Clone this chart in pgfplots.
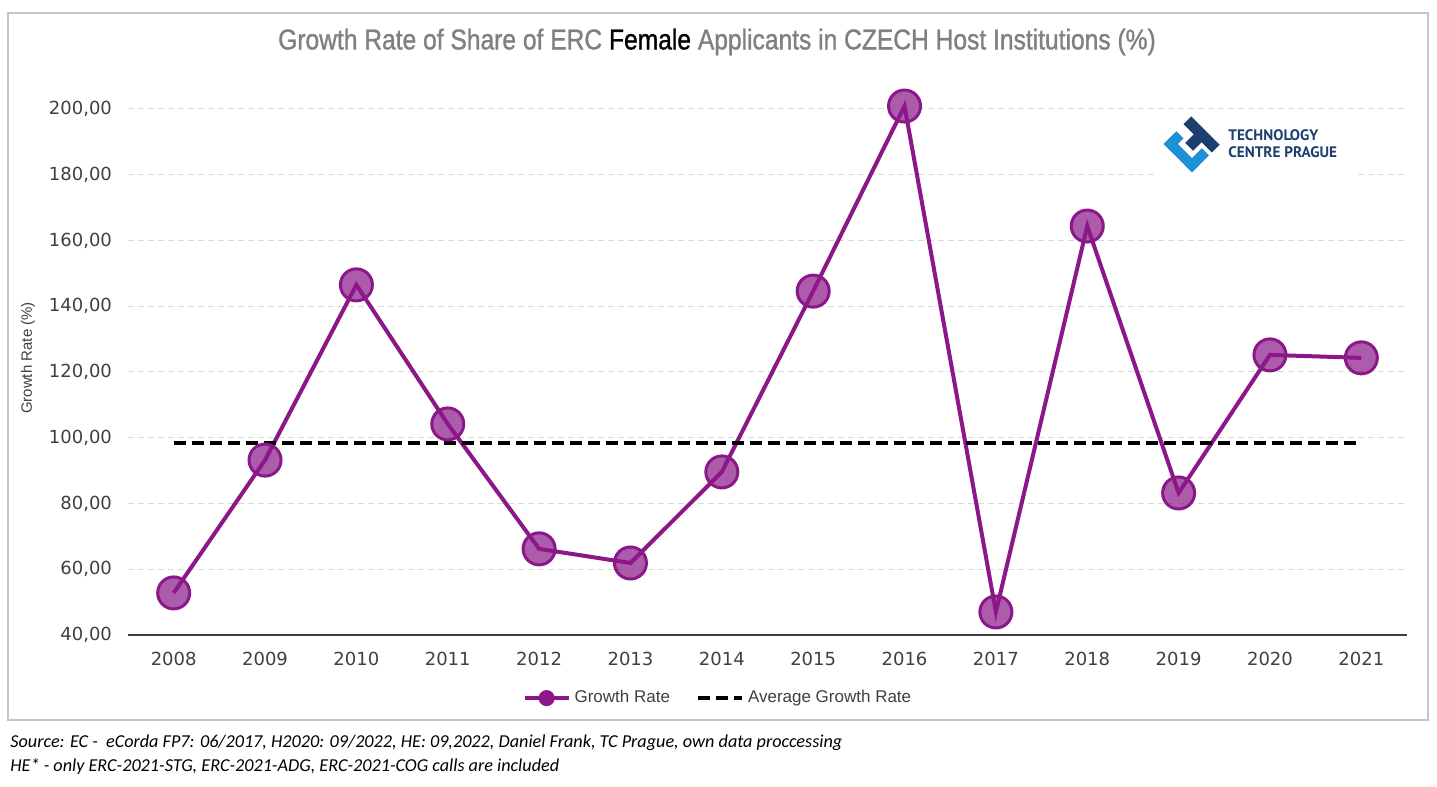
\documentclass[border=0pt]{standalone}
\usepackage{pgfplots}
\pgfplotsset{compat=1.18}
\usepackage{fontspec}
\setmainfont{Liberation Sans}
\newfontfamily\tickfont{DejaVu Sans}
\newfontfamily\titlefont{Liberation Sans}[FakeStretch=0.86, FakeBold=1.1]
\newfontfamily\footfont{Carlito}
\newfontfamily\logofont{PT Sans}
\definecolor{grPurple}{RGB}{139,23,137}
\definecolor{titleGray}{RGB}{128,128,128}
\definecolor{txtGray}{RGB}{64,64,64}
\definecolor{tcBlue}{RGB}{30,144,214}
\definecolor{tcNavy}{RGB}{29,63,110}

\begin{document}
\begin{tikzpicture}[x=1pt,y=1pt]
% page and frame (1 px = 0.5 pt)
\fill[white] (0,0) rectangle (718.5,393.5);
\draw[gray!45, line width=0.6pt] (4,33.5) rectangle (714,387);

\begin{axis}[at={(64pt,76pt)}, anchor=south west,
    scale only axis, width=639.5pt, height=263pt,
    xmin=-0.5, xmax=13.5, ymin=40, ymax=200,
    xtick={0,...,13},
    xticklabels={2008,2009,2010,2011,2012,2013,2014,2015,2016,2017,2018,2019,2020,2021},
    ytick={40,60,...,200},
    axis x line=bottom, axis y line=left,
    axis line style={-},
    x axis line style={draw=txtGray, line width=1.4pt},
    y axis line style={draw=none},
    major tick length=0pt,
    ymajorgrids, grid style={gray!30, line width=0.5pt, dash pattern=on 3pt off 2pt},
    tick label style={font=\tickfont\fontsize{9}{10}\selectfont, text=txtGray},
    yticklabel style={xshift=-4.5pt, /pgf/number format/.cd, fixed, fixed zerofill, precision=2, use comma, assume math mode=true},
    xticklabel style={yshift=-5pt},
    clip=false,
    legend columns=2,
    legend style={at={(0.462,-0.12)}, anchor=center, draw=none, fill=none,
        font=\fontsize{8.5}{10}\selectfont, text=txtGray,
        /tikz/every even column/.append style={column sep=11pt}},
]
\addplot[grPurple, line width=2pt, mark=*, mark size=8pt,
    mark options={draw=grPurple, fill=grPurple, fill opacity=0.7, line width=1.5pt},
    legend image code/.code={
        \draw[grPurple, line width=2pt] (0pt,0pt) -- (22pt,0pt);
        \fill[grPurple] (11pt,0pt) circle (3pt);}]
coordinates {(0,52.8) (1,93.2) (2,146.5) (3,104.2) (4,66.2) (5,61.9) (6,89.6)
    (7,144.6) (8,200.9) (9,47.0) (10,164.4) (11,83.2) (12,125.2) (13,124.3)};
\addlegendentry{Growth Rate}
\addplot[black, line width=2pt, dash pattern=on 6pt off 3pt,
    legend image code/.code={
        \draw[black, line width=2pt, dash pattern=on 6pt off 3pt] (0pt,0pt) -- (22pt,0pt);}]
coordinates {(0,98.4) (13,98.4)};
\addlegendentry{Average Growth Rate}
\end{axis}

% title
\node[font=\titlefont\fontsize{14.3}{16}\selectfont, text=titleGray] at (358.5,372.5)
    {Growth Rate of Share of ERC \textcolor{black}{Female} Applicants in CZECH Host Institutions (\%)};

% y label
\node[rotate=90, font=\fontsize{7.5}{9}\selectfont, text=txtGray] at (14,214.5) {Growth Rate (\%)};

% logo
\fill[white] (578,306) rectangle (678,338);
\begin{scope}[shift={(596,321.5)}, rotate=45]
  \fill[tcBlue] (-10,-10) rectangle (-5,10);
  \fill[tcBlue] (-10,5) rectangle (-1,10);
  \fill[tcBlue] (-10,-10) rectangle (2,-5);
  \fill[tcNavy] (4,-10) rectangle (9.5,10);
  \fill[tcNavy] (-2,-2.8) rectangle (9,2.8);
\end{scope}
\node[anchor=west, align=left, font=\logofont\bfseries\fontsize{7.6}{8.6}\selectfont, text=tcNavy, inner sep=0pt] at (614,321.5)
    {TECHNOLOGY\\CENTRE PRAGUE};

% source notes
\node[anchor=base west, font=\footfont\itshape\fontsize{9.1}{11}\selectfont, inner sep=0pt] at (5,19.5)
    {Source: EC -\ \ eCorda FP7: 06/2017, H2020: 09/2022, HE: 09,2022, Daniel Frank, TC Prague, own data proccessing};
\node[anchor=base west, font=\footfont\itshape\fontsize{9.1}{11}\selectfont, inner sep=0pt] at (5,7.5)
    {HE* - only ERC-2021-STG, ERC-2021-ADG, ERC-2021-COG calls are included};
\end{tikzpicture}
\end{document}
